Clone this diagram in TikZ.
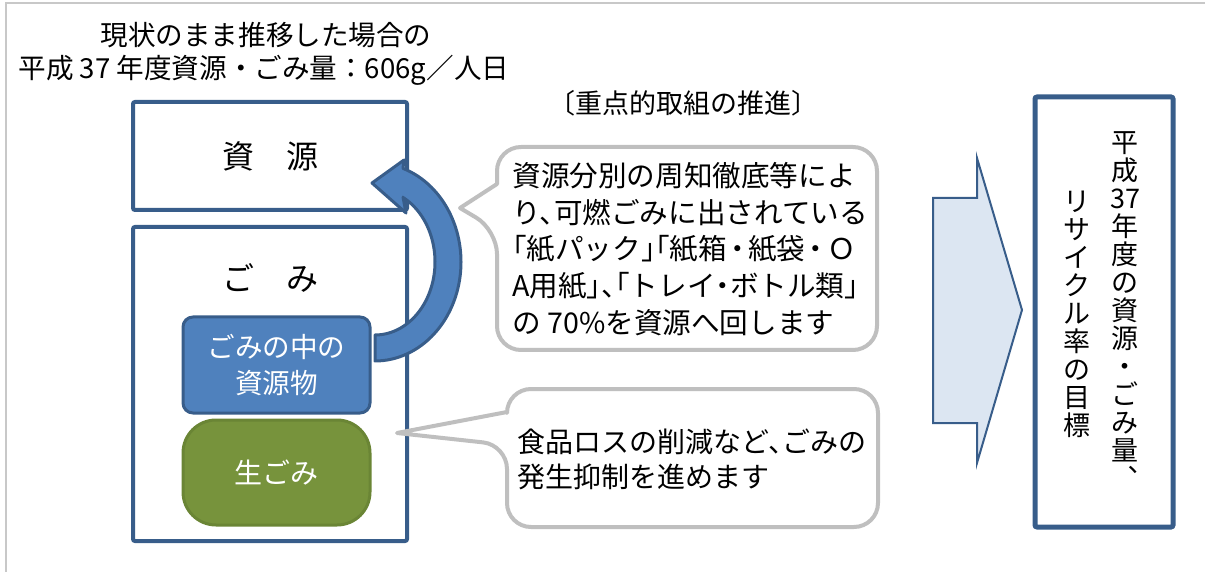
\documentclass[tikz,border=0pt]{standalone}
\usepackage{fontspec}
\setmainfont{Noto Sans CJK JP}
\newfontfamily\jpvert[RawFeature=+vert]{Noto Sans CJK JP}
\definecolor{dkblue}{HTML}{385D8A}
\definecolor{accblue}{HTML}{4F81BD}
\definecolor{grn}{HTML}{77933C}
\definecolor{grnb}{HTML}{6A8535}
\definecolor{lblue}{HTML}{DCE6F2}
\definecolor{bgray}{HTML}{BFBFBF}
\definecolor{fgray}{HTML}{C8C8C8}
\begin{document}
\begin{tikzpicture}[x=0.5pt,y=-0.5pt,
  panel/.style={draw=dkblue,line width=2pt,rounded corners=1pt,inner sep=0pt},
  itembox/.style={draw=dkblue,fill=accblue,line width=1.5pt,rounded corners=5pt,inner sep=0pt,text=white,minimum width=93.5pt,align=center},
  bubble/.style={draw=bgray,line width=2pt,fill=white,line join=round},
  lbl/.style={inner sep=0pt},
  titlefont/.style={font=\fontsize{13.8}{16}\selectfont},
  vcol/.style={inner sep=0pt,align=center,font=\fontsize{13.5}{14}\selectfont}]
\useasboundingbox (0,0) rectangle (1205,572);
% outer frame
\draw[fgray,line width=1.3pt] (6,572) -- (6,3) -- (1205,3);

% titles
\node[lbl,titlefont,anchor=west] (t1) at (100,35) {現状のまま推移した場合の};
\node[lbl,titlefont,anchor=west] (t2) at (18,70) {平成 37 年度資源・ごみ量：606g／人日};
\node[lbl,font=\fontsize{13.5}{16}\selectfont] (t3) at (683,103) {〔重点的取組の推進〕};

% left panels
\node[panel,minimum width=137pt,minimum height=54pt,font=\fontsize{16}{18}\selectfont] (shigen) at (270,156) {資\quad 源};
\node[panel,minimum width=137pt,minimum height=157pt] (gomi) at (270,384) {};
\node[lbl,font=\fontsize{16}{18}\selectfont] (gomil) at (270,278) {ご\quad み};
\node[itembox,minimum height=48pt,font=\fontsize{13.8}{18}\selectfont] (res) at (276.5,365) {ごみの中の\\資源物};
\node[itembox,draw=grnb,fill=grn,rounded corners=16.5pt,minimum height=52.5pt,font=\fontsize{14}{18}\selectfont] (nama) at (276.5,472.5) {生ごみ};

% curved arrow
\draw[draw=dkblue,fill=accblue,line width=1.5pt,line join=round]
  plot[domain=-90:71,samples=60,smooth] ({375+86*cos(\x)},{262-99*sin(\x)})
  -- (404,160) -- (372,183) -- (406,213) -- (403,197)
  -- plot[domain=62:-90,samples=60,smooth] ({375+60*cos(\x)},{262-73*sin(\x)}) -- cycle;

% speech bubble 1
\draw[bubble,rounded corners=12pt] (687,350) -- (497,350) -- (497,230) [sharp corners] -- (460,208) -- (497,184) [rounded corners=12pt] -- (497,147) -- (877,147) -- (877,350) -- cycle;
\node[lbl,anchor=west,align=left,font=\fontsize{14.3}{18.3}\selectfont] (b1) at (512,249)
  {資源分別の周知徹底等によ\\り、\kern-.5em可燃ごみに出されている\\\hspace*{-.5em}「紙パック」\kern-1em「紙箱\kern-.125em・\kern-.125em紙袋\kern-.125em・\kern-.125em Ｏ\\A用紙」\kern-.5em、\kern-1em「トレイ\kern-.25em・\kern-.25em ボトル類」\\の 70\%を資源へ回します};

% speech bubble 2
\draw[bubble,rounded corners=12pt] (690,527) -- (507,527) -- (507,445) [sharp corners] -- (397,433) -- (507,412) [rounded corners=12pt] -- (507,389) -- (878,389) -- (878,527) -- cycle;
\node[lbl,anchor=west,align=left,font=\fontsize{14}{17.5}\selectfont] (b2) at (517,459.5)
  {食品ロスの削減など、\kern-.5em ごみの\\発生抑制を進めます};

% block arrow
\draw[draw=dkblue,fill=lblue,line width=1pt,line join=miter] (933,198) -- (977,198) -- (977,158) -- (1022,310) -- (977,463) -- (977,423) -- (933,423) -- cycle;

% goal box
\node[panel,line width=2.5pt,minimum width=69pt,minimum height=215pt] (goal) at (1104,312) {};
\node[vcol] (v1) at (1125,310) {平\\成\\37\\年\\度\\の\\資\\源\\・\\ご\\み\\量\\\jpvert 、};
\node[vcol] (v2) at (1077,314) {リ\\サ\\イ\\ク\\ル\\率\\の\\目\\標};
\end{tikzpicture}
\end{document}
